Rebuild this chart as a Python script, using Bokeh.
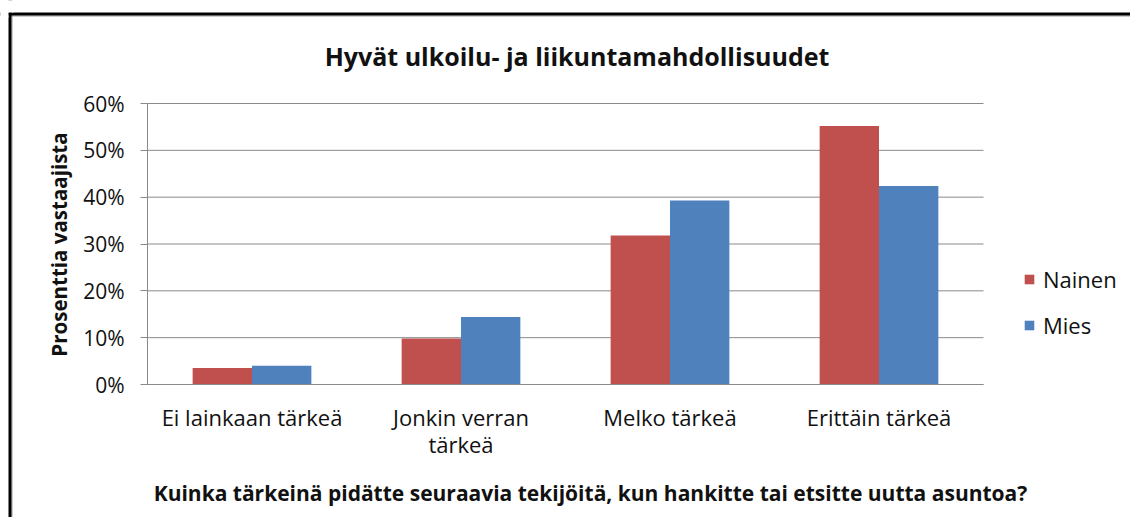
from math import pi
from bokeh.plotting import figure
from bokeh.models import (FactorRange, Range1d, NumeralTickFormatter, FixedTicker,
                          Label, Legend, LegendItem, BoxAnnotation, Span, ColumnDataSource)
from bokeh.transform import dodge
from bokeh.embed import file_html
from bokeh.resources import INLINE

# ---- data ----
categories = ["Ei lainkaan tärkeä", "Jonkin verran\ntärkeä", "Melko tärkeä", "Erittäin tärkeä"]
series_names = ["Nainen", "Mies"]
nainen = [0.035, 0.098, 0.318, 0.552]
mies = [0.040, 0.144, 0.393, 0.424]
y_ticks = [0.0, 0.1, 0.2, 0.3, 0.4, 0.5, 0.6]
chart_title = "Hyvät ulkoilu- ja liikuntamahdollisuudet"
x_title = "Kuinka tärkeinä pidätte seuraavia tekijöitä, kun hankitte tai etsitte uutta asuntoa?"
y_title = "Prosenttia vastaajista"

# ---- style / layout (pixels) ----
colors = ["#C0504D", "#4F81BD"]
FONT = "Open Sans"
TXT = "#111111"
GRID = "#8a8a8a"

W, H = 1130, 517
PLOT_L, PLOT_R, PLOT_T, PLOT_B = 147, 983, 103, 384
n = len(categories)
px_per_cat = (PLOT_R - PLOT_L) / n
pad = PLOT_L / px_per_cat
px_per_unit = (PLOT_B - PLOT_T) / y_ticks[-1]
y_end = y_ticks[-1] + PLOT_T / px_per_unit
y_start = -(H - PLOT_B) / px_per_unit

p = figure(width=W, height=H,
           x_range=FactorRange(factors=categories, range_padding=pad,
                               range_padding_units="absolute"),
           y_range=Range1d(y_start, y_end),
           output_backend="svg", toolbar_location=None, min_border=0)
p.outline_line_color = None
p.background_fill_color = "white"
p.border_fill_color = "white"
p.xgrid.visible = False
p.ygrid.visible = False

# horizontal gridlines over the plot area only
p.segment(x0=[0] * len(y_ticks), x1=[n] * len(y_ticks), y0=y_ticks, y1=y_ticks,
          line_color=GRID, line_width=1)

src = ColumnDataSource(dict(cat=categories, nainen=nainen, mies=mies))
bw = 0.284
r1 = p.vbar(x=dodge("cat", -bw / 2, range=p.x_range), top="nainen", width=bw,
            source=src, fill_color=colors[0], line_color=None)
r2 = p.vbar(x=dodge("cat", bw / 2, range=p.x_range), top="mies", width=bw,
            source=src, fill_color=colors[1], line_color=None)

# axes drawn at fixed positions inside the full-canvas frame
ya = p.yaxis[0]
ya.fixed_location = 0
ya.bounds = (y_ticks[0], y_ticks[-1])
ya.ticker = FixedTicker(ticks=y_ticks)
ya.formatter = NumeralTickFormatter(format="0%")
ya.major_tick_out = 7
ya.major_tick_in = 0
ya.minor_tick_line_color = None
ya.axis_line_color = GRID
ya.major_tick_line_color = GRID
ya.major_label_standoff = 16
ya.major_label_text_font = FONT
ya.major_label_text_font_size = "21px"
ya.major_label_text_color = TXT

xa = p.xaxis[0]
xa.fixed_location = 0
xa.bounds = (0, n)
xa.axis_line_color = GRID
xa.major_tick_line_color = None
xa.minor_tick_line_color = None
xa.major_label_standoff = 11
xa.major_label_text_font = FONT
xa.major_label_text_font_size = "22px"
xa.major_label_text_line_height = 0.9
xa.major_label_text_color = TXT

# legend
legend = Legend(items=[LegendItem(label=series_names[0], renderers=[r1]),
                       LegendItem(label=series_names[1], renderers=[r2])],
                location=(1023, H - 340),
                glyph_width=12, glyph_height=12, label_standoff=8,
                label_text_font=FONT, label_text_font_size="22px",
                label_text_color=TXT, label_height=20, spacing=16,
                padding=0, margin=0, border_line_color=None,
                background_fill_alpha=0)
p.add_layout(legend)

# titles
p.add_layout(Label(x=576.5, y=H - 55, x_units="screen", y_units="screen", text=chart_title,
                   text_align="center", text_baseline="middle", text_font=FONT,
                   text_font_style="bold", text_font_size="25px", text_color=TXT))
p.add_layout(Label(x=590, y=H - 492, x_units="screen", y_units="screen", text=x_title,
                   text_align="center", text_baseline="middle", text_font=FONT,
                   text_font_style="bold", text_font_size="21px", text_color=TXT))
p.add_layout(Label(x=58, y=H - 244, x_units="screen", y_units="screen", text=y_title,
                   angle=pi / 2, text_align="center", text_baseline="middle", text_font=FONT,
                   text_font_style="bold", text_font_size="20.5px", text_color=TXT))

# chart border: only its left and top edges fall inside the picture
for loc, dim, col, lw in [(11.5, "height", "#9a9a9a", 1), (H - 15.5, "width", "#9a9a9a", 1),
                          (9.5, "height", "black", 3), (H - 13.5, "width", "black", 3)]:
    p.add_layout(Span(location=loc, dimension=dim, location_units="screen",
                      line_color=col, line_width=lw))
# blank out the parts of those lines outside the box corner
p.add_layout(BoxAnnotation(left=0, right=8, top=H, bottom=H - 17,
                           left_units="screen", right_units="screen",
                           top_units="screen", bottom_units="screen",
                           fill_color="white", fill_alpha=1, line_color=None))
p.add_layout(BoxAnnotation(left=0, right=13, top=H, bottom=H - 12,
                           left_units="screen", right_units="screen",
                           top_units="screen", bottom_units="screen",
                           fill_color="white", fill_alpha=1, line_color=None))

open("out.html", "w").write(file_html(p, INLINE))
